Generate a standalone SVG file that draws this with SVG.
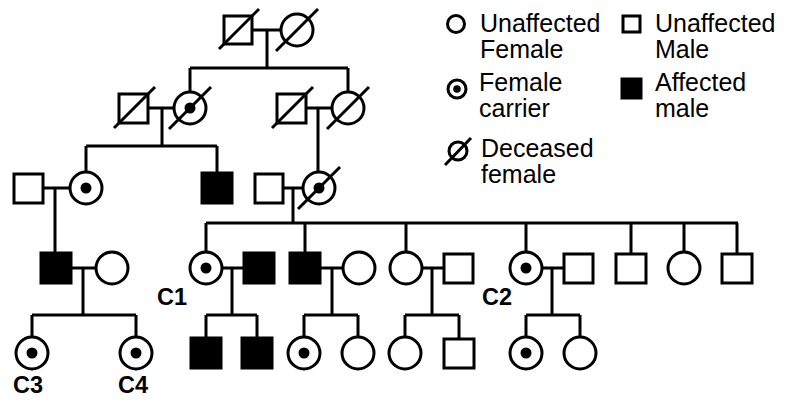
<svg xmlns="http://www.w3.org/2000/svg" width="785" height="403" viewBox="0 0 785 403">
<style>
.s{fill:#fff;stroke:#000;stroke-width:3}
.a{fill:#000;stroke:#000;stroke-width:3}
.l{stroke:#000;stroke-width:3;fill:none}
.d{fill:#000}
.t{font-family:"Liberation Sans",Arial,sans-serif;font-size:25px;fill:#000}
.b{font-family:"Liberation Sans",Arial,sans-serif;font-size:23.5px;font-weight:bold;fill:#000}
</style>
<rect width="785" height="403" fill="#fff"/>
<g id="connectors" class="l">
<path d="M252 30H281M267 30V68M190 68H348M190 68V92M348 68V92"/>
<path d="M148 108H174M162 108V146M86 146H217M86 146V172M217 146V173"/>
<path d="M306 108H332M318 108V172"/>
<path d="M43 188H70M55 188V253"/>
<path d="M283 188H303M293 188V223M206 223H738M206 223V252M305 223V253M406 223V252M526 223V252M631 223V253M684 223V252M737 223V253"/>
<path d="M71 268H96M83 268V315M32 315H136M32 315V337M136 315V337"/>
<path d="M222 268H244M232 268V315M206 315H257M206 315V338M257 315V338"/>
<path d="M320 268H343M332 268V315M304 315H358M304 315V337M358 315V337"/>
<path d="M422 268H444M432 268V315M405 315H459M405 315V337M459 315V338"/>
<path d="M542 268H564M552 268V315M526 315H580M526 315V337M580 315V337"/>
</g>
<g id="I1"><rect class="s" x="224" y="16" width="28" height="28"/><path class="l" d="M219 49L259 9"/></g>
<g id="I2"><circle class="s" cx="297" cy="30" r="16"/><path class="l" d="M276 51L318 9"/></g>
<g id="II1"><rect class="s" x="119" y="94" width="29" height="29"/><path class="l" d="M114 128L155 87"/></g>
<g id="II2"><circle class="s" cx="190" cy="108" r="16"/><circle class="d" cx="190" cy="108" r="5.5"/><path class="l" d="M169 129L211 87"/></g>
<g id="II3"><rect class="s" x="277" y="94" width="29" height="29"/><path class="l" d="M272 128L313 87"/></g>
<g id="II4"><circle class="s" cx="348" cy="108" r="16"/><path class="l" d="M327 129L369 87"/></g>
<g id="III1"><rect class="s" x="14" y="174" width="29" height="29"/></g>
<g id="III2"><circle class="s" cx="86" cy="188" r="16"/><circle class="d" cx="86" cy="188" r="5.5"/></g>
<g id="III3"><rect class="a" x="202" y="173" width="30" height="30"/></g>
<g id="III4"><rect class="s" x="255" y="174" width="28" height="29"/></g>
<g id="III5"><circle class="s" cx="319" cy="188" r="16"/><circle class="d" cx="319" cy="188" r="5.5"/><path class="l" d="M298 209L340 167"/></g>
<g id="IV1"><rect class="a" x="41" y="253" width="30" height="30"/></g>
<g id="IV2"><circle class="s" cx="112" cy="268" r="16"/></g>
<g id="IV3"><circle class="s" cx="206" cy="268" r="16"/><circle class="d" cx="206" cy="268" r="5.5"/></g>
<g id="IV4"><rect class="a" x="244" y="253" width="30" height="30"/></g>
<g id="IV5"><rect class="a" x="290" y="253" width="30" height="30"/></g>
<g id="IV6"><circle class="s" cx="359" cy="268" r="16"/></g>
<g id="IV7"><circle class="s" cx="406" cy="268" r="16"/></g>
<g id="IV8"><rect class="s" x="444" y="254" width="29" height="29"/></g>
<g id="IV9"><circle class="s" cx="526" cy="268" r="16"/><circle class="d" cx="526" cy="268" r="5.5"/></g>
<g id="IV10"><rect class="s" x="564" y="254" width="29" height="29"/></g>
<g id="IV11"><rect class="s" x="616" y="254" width="30" height="29"/></g>
<g id="IV12"><circle class="s" cx="684" cy="268" r="16"/></g>
<g id="IV13"><rect class="s" x="722" y="254" width="30" height="29"/></g>
<g id="V1"><circle class="s" cx="32" cy="353" r="16"/><circle class="d" cx="32" cy="353" r="5.5"/></g>
<g id="V2"><circle class="s" cx="136" cy="353" r="16"/><circle class="d" cx="136" cy="353" r="5.5"/></g>
<g id="V3"><rect class="a" x="191" y="338" width="30" height="30"/></g>
<g id="V4"><rect class="a" x="242" y="338" width="30" height="30"/></g>
<g id="V5"><circle class="s" cx="304" cy="353" r="16"/><circle class="d" cx="304" cy="353" r="5.5"/></g>
<g id="V6"><circle class="s" cx="358" cy="353" r="16"/></g>
<g id="V7"><circle class="s" cx="405" cy="353" r="16"/></g>
<g id="V8"><rect class="s" x="444" y="339" width="30" height="29"/></g>
<g id="V9"><circle class="s" cx="526" cy="353" r="16"/><circle class="d" cx="526" cy="353" r="5.5"/></g>
<g id="V10"><circle class="s" cx="580" cy="353" r="16"/></g>
<g id="labels">
<text class="b" x="157" y="305">C1</text>
<text class="b" x="482" y="305">C2</text>
<text class="b" x="13" y="393">C3</text>
<text class="b" x="118" y="393">C4</text>
</g>
<g id="legend">
<circle class="s" cx="456" cy="24" r="8.5"/>
<text class="t" x="480" y="32">Unaffected</text>
<text class="t" x="480" y="58">Female</text>
<circle class="s" cx="457" cy="89" r="9"/><circle class="d" cx="457" cy="89" r="3.8"/>
<text class="t" x="479" y="91">Female</text>
<text class="t" x="479" y="117">carrier</text>
<circle class="s" cx="458" cy="151" r="9"/><path class="l" d="M445 165L471 138"/>
<text class="t" x="481" y="157">Deceased</text>
<text class="t" x="481" y="183">female</text>
<rect class="s" x="623" y="16" width="17" height="16"/>
<text class="t" x="655" y="32">Unaffected</text>
<text class="t" x="655" y="58">Male</text>
<rect class="a" x="622" y="79" width="19" height="19"/>
<text class="t" x="655" y="91">Affected</text>
<text class="t" x="655" y="117">male</text>
</g>
</svg>
